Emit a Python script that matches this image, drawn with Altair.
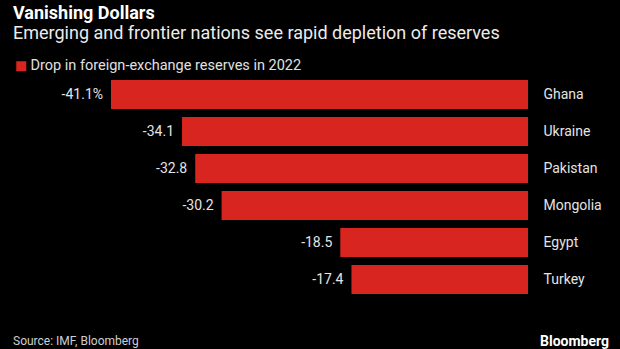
import altair as alt
import pandas as pd

countries = ["Ghana", "Ukraine", "Pakistan", "Mongolia", "Egypt", "Turkey"]
values = [-41.1, -34.1, -32.8, -30.2, -18.5, -17.4]
labels = ["-41.1%", "-34.1", "-32.8", "-30.2", "-18.5", "-17.4"]
series_name = "Drop in foreign-exchange reserves in 2022"

title_text = "Vanishing Dollars"
subtitle_text = "Emerging and frontier nations see rapid depletion of reserves"
source_text = "Source: IMF, Bloomberg"

FONT = "Roboto"
RED = "#d9251f"

df = pd.DataFrame({"country": countries, "value": values, "label": labels,
                   "series": [series_name] * len(countries)})

y_enc = alt.Y("country:N", sort=countries,
              scale=alt.Scale(paddingInner=0.216, paddingOuter=0.108),
              axis=alt.Axis(orient="right", title=None, ticks=False, domain=False,
                            labelPadding=15, labelFontSize=14, labelFont=FONT,
                            labelColor="#e4e4e4", labelAlign="left", grid=False))
x_enc = alt.X("value:Q", scale=alt.Scale(domain=[-41.1, 0], nice=False),
              axis=None)

bars = alt.Chart(df).mark_bar(cornerRadius=0).encode(
    x=x_enc, y=y_enc,
    color=alt.Color("series:N", scale=alt.Scale(range=[RED]),
                    legend=alt.Legend(title=None, orient="none", legendX=-97, legendY=-17,
                                      symbolType="square", symbolSize=100,
                                      symbolStrokeWidth=0, labelFontSize=14.5,
                                      labelFont=FONT, labelColor="#e0e0e0",
                                      labelOffset=2, labelLimit=500)),
)

vals = alt.Chart(df).mark_text(align="right", baseline="middle", dx=-8,
                               fontSize=14, font=FONT, color="#e4e4e4").encode(
    x="value:Q", y=alt.Y("country:N", sort=countries), text="label:N")

def txt(s, x, y, size, weight="normal", color="#ffffff"):
    return alt.Chart(pd.DataFrame({"t": [s]})).mark_text(
        align="left", baseline="alphabetic", fontSize=size, fontWeight=weight,
        font=FONT, color=color).encode(x=alt.value(x), y=alt.value(y), text="t:N")

title = txt(title_text, -98, -56.7, 18, "bold")
subtitle = txt(subtitle_text, -98, -36.7, 18, color="#ececec")
source = txt(source_text, -98, 268.5, 12, color="#cfcfcf")
logo = txt("Bloomberg", 429, 270, 14, "bold")

chart = alt.layer(bars, vals, title, subtitle, source, logo).properties(
    width=417, height=222,
    autosize=alt.AutoSizeParams(type="none"),
    padding={"left": 111, "top": 76, "right": 92, "bottom": 51},
    background="#000000",
).configure_view(stroke=None)

chart.save("out.html", embed_options={"renderer": "svg", "actions": False})
